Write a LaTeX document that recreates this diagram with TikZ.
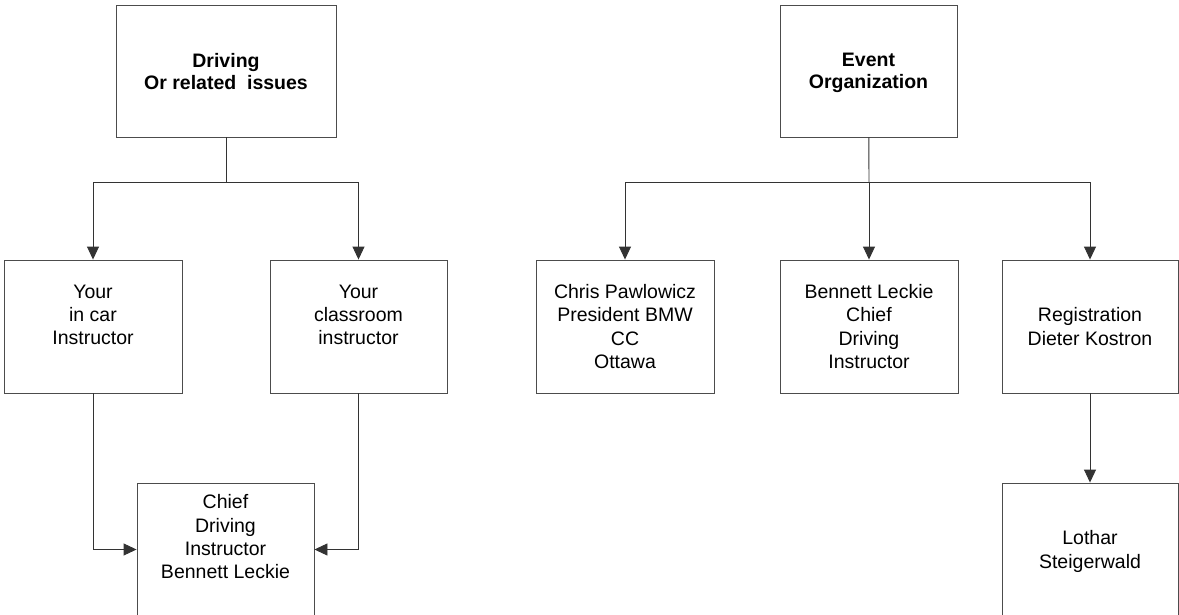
\documentclass[tikz,border=0pt]{standalone}
\usepackage{fontspec}
\setmainfont{Liberation Sans}
\usetikzlibrary{arrows.meta}
\begin{document}
\begin{tikzpicture}[x=1pt,y=-1pt,
  box/.style={draw=black!70,line width=0.9pt,rectangle,align=center,inner sep=0pt,text depth=0pt,
    font=\fontsize{19.5}{23.3}\selectfont},
  topbox/.style={box,minimum height=132pt,font=\fontsize{19.5}{22}\selectfont\bfseries},
  midbox/.style={box,minimum width=177pt,minimum height=133pt},
  conn/.style={draw=black!80,line width=0.9pt},
  arr/.style={conn,-{Triangle[length=13pt,width=12pt]}}]
\useasboundingbox (0,0) rectangle (1179,615);
% top boxes
\node[topbox,minimum width=220pt] (drv) at (226,71) {Driving\\Or related\ \ issues};
\node[topbox,minimum width=177pt] (evt) at (868.5,71) {Event\\Organization};
% middle row
\node[midbox,minimum width=178pt] (car) at (93,326.5) {Your\\in car\\Instructor\\\mbox{}};
\node[midbox] (cls) at (358.5,326.5) {Your\\classroom\\instructor\\\mbox{}};
\node[midbox,minimum width=178pt] (chr) at (625,326.5) {Chris Pawlowicz\\President BMW\\CC\\Ottawa};
\node[midbox,minimum width=178pt] (ben) at (869,326.5) {Bennett Leckie\\Chief\\Driving\\Instructor};
\node[midbox,minimum width=176pt] (reg) at (1090,326.5) {Registration\\Dieter Kostron};
% bottom row
\node[midbox] (chf) at (225.5,549.5) {Chief\\Driving\\Instructor\\Bennett Leckie\\[2pt]\mbox{}};
\node[midbox,minimum width=176pt] (lot) at (1090,549.5) {Lothar\\Steigerwald};
% junctions
\coordinate (j1) at (226,182);
\coordinate (j2) at (869,182);
% connectors
\draw[conn] (drv) -- (j1);
\draw[arr] (j1) -| (car);
\draw[arr] (j1) -| (cls);
\draw[conn] (evt) -- (j2);
\draw[arr] (j2) -| (chr);
\draw[arr] (j2) -- (ben);
\draw[arr] (j2) -| (reg);
\draw[arr] (car.south) |- (chf.west);
\draw[arr] (cls.south) |- (chf.east);
\draw[arr] (reg) -- (lot);
\end{tikzpicture}
\end{document}
